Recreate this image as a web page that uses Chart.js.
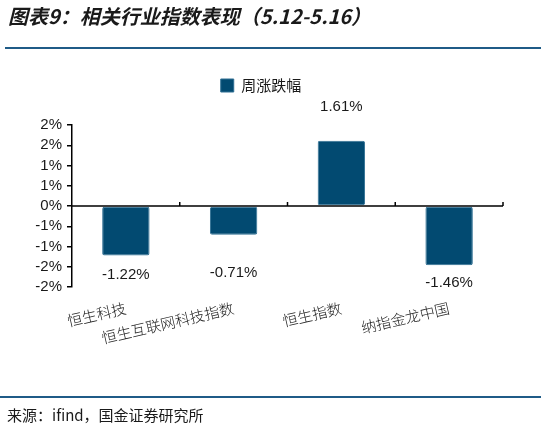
<!DOCTYPE html>
<html>
<head>
<meta charset="utf-8">
<script src="https://cdn.jsdelivr.net/npm/chart.js@4"></script>
<style>
  body { margin: 0; background: #fff; }
  #wrap { position: relative; width: 541px; height: 429px; overflow: hidden; }
  #box { position: absolute; left: 0; top: 0; width: 541px; height: 429px; }
  .title { position: absolute; left: 8px; top: 1px; font: italic bold 20px "Noto Sans CJK SC", sans-serif; letter-spacing: 0px; color: #1a1a1a; white-space: nowrap; }
  .rule { position: absolute; left: 5px; right: 0; height: 2px; background: #1f5b87; }
  .source { position: absolute; left: 7px; top: 404px; font: 15px "Noto Sans CJK SC", sans-serif; color: #1a1a1a; white-space: nowrap; }
</style>
</head>
<body>
<div id="wrap">
  <div id="box"><canvas id="chart"></canvas></div>
  <div class="title">图表9：相关行业指数表现（5.12-5.16）</div>
  <div class="rule" style="top:47px"></div>
  <div class="rule" style="top:396px; left:0"></div>
  <div class="source">来源：ifind，国金证券研究所</div>
</div>
<script>
const categories = ['恒生科技', '恒生互联网科技指数', '恒生指数', '纳指金龙中国'];
const weeklyChange = [-1.22, -0.71, 1.61, -1.46];
const seriesName = '周涨跌幅';
const yTickValues = [-2, -1.5, -1, -0.5, 0, 0.5, 1, 1.5, 2];
const yTickLabels = ['-2%', '-2%', '-1%', '-1%', '0%', '1%', '1%', '2%', '2%'];

// data labels sit at hand-placed distances from the bar ends, like the original
const labelOffsets = [19, 38, -34, 18];

const valueLabels = {
    id: 'valueLabels',
    afterDatasetsDraw(chart) {
        const ctx = chart.ctx;
        const meta = chart.getDatasetMeta(0);
        ctx.save();
        ctx.font = '15px "Liberation Sans", Arial, sans-serif';
        ctx.fillStyle = '#1a1a1a';
        ctx.textAlign = 'center';
        ctx.textBaseline = 'middle';
        meta.data.forEach((bar, i) => {
            ctx.fillText(weeklyChange[i].toFixed(2) + '%', bar.x, bar.y + labelOffsets[i]);
        });
        ctx.restore();
    }
};

// category axis drawn along the zero line, tick marks pointing up between groups
const zeroAxis = {
    id: 'zeroAxis',
    afterDatasetsDraw(chart) {
        const ctx = chart.ctx;
        const x = chart.scales.x;
        const y0 = chart.scales.y.getPixelForValue(0);
        const area = chart.chartArea;
        ctx.save();
        ctx.strokeStyle = '#000';
        ctx.lineWidth = 1.5;
        ctx.beginPath();
        ctx.moveTo(area.left, y0);
        ctx.lineTo(area.right, y0);
        const step = x.getPixelForTick(1) - x.getPixelForTick(0);
        for (let i = 0; i < categories.length; i++) {
            const bx = x.getPixelForTick(i) + step / 2;
            ctx.moveTo(bx, y0);
            ctx.lineTo(bx, y0 - 4);
        }
        ctx.stroke();
        ctx.restore();
    }
};

// extra room under the legend
const legendRoom = {
    id: 'legendRoom',
    beforeInit(chart) {
        const fit = chart.legend.fit;
        chart.legend.fit = function() {
            fit.bind(chart.legend)();
            this.height = 57;
        };
    }
};

new Chart(document.getElementById('chart'), {
    type: 'bar',
    data: {
        labels: categories,
        datasets: [{
            label: seriesName,
            data: weeklyChange,
            backgroundColor: '#024a71',
            borderColor: '#2f6f93',
            borderWidth: 1,
            borderRadius: 2,
            borderSkipped: false,
            barPercentage: 0.44,
            categoryPercentage: 1
        }]
    },
    options: {
        responsive: true,
        maintainAspectRatio: false,
        animation: false,
        layout: { padding: { left: 19, right: 38, top: 68, bottom: 82 } },
        plugins: {
            legend: {
                display: true,
                position: 'top',
                labels: {
                    boxWidth: 13,
                    boxHeight: 13,
                    padding: 10,
                    color: '#1a1a1a',
                    font: { size: 15, family: '"Noto Sans CJK SC", sans-serif' }
                }
            },
            tooltip: { enabled: false }
        },
        scales: {
            x: {
                position: 'bottom',
                border: { display: false },
                grid: { display: false },
                ticks: {
                    autoSkip: false,
                    minRotation: 13,
                    maxRotation: 13,
                    padding: 4,
                    color: '#1a1a1a',
                    font: { size: 15, weight: 300, family: '"Noto Sans CJK SC", sans-serif' }
                },
                afterFit(scale) { scale.height = 60; }
            },
            y: {
                min: -2,
                max: 2,
                border: { display: true, color: '#000', width: 1.5 },
                grid: { drawOnChartArea: false, drawTicks: true, tickLength: 5, color: '#000', lineWidth: 1.5 },
                ticks: {
                    stepSize: 0.5,
                    autoSkip: false,
                    padding: 5,
                    color: '#1a1a1a',
                    font: { size: 15, family: '"Liberation Sans", Arial, sans-serif' },
                    callback(value) {
                        const i = yTickValues.indexOf(value);
                        return i >= 0 ? yTickLabels[i] : '';
                    }
                },
                afterFit(scale) { scale.width = 53; }
            }
        }
    },
    plugins: [valueLabels, zeroAxis, legendRoom]
});
</script>
</body>
</html>
